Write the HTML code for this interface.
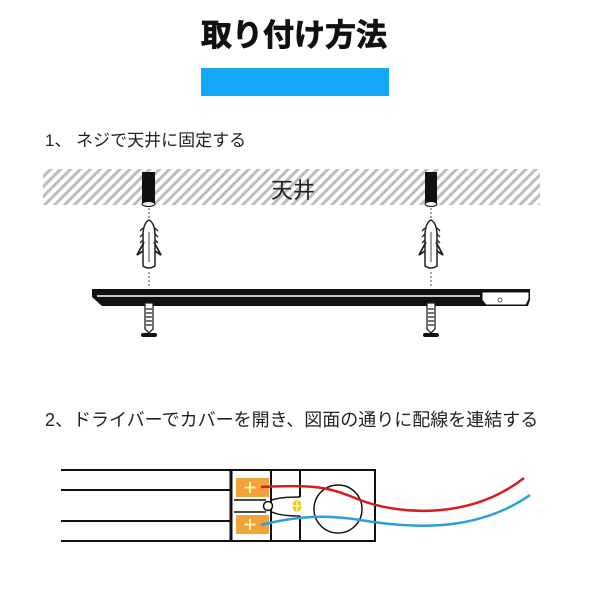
<!DOCTYPE html>
<html><head><meta charset="utf-8"><style>
html,body{margin:0;padding:0;background:#fff;width:600px;height:600px;overflow:hidden}
svg text{font-family:"Liberation Sans","Noto Sans CJK JP",sans-serif}
</style></head><body>
<svg width="600" height="600" viewBox="0 0 600 600" xmlns="http://www.w3.org/2000/svg">
<defs>
<pattern id="h" width="7" height="7" patternUnits="userSpaceOnUse" patternTransform="rotate(45)">
<rect width="7" height="7" fill="#fff"/><rect width="3" height="7" fill="#bdbdbd"/>
</pattern>
<g id="plug">
<path d="M0,-26 C-4,-24 -6,-18 -6,-10 L-6,20 Q0,24 6,20 L6,-10 C6,-18 4,-24 0,-26Z" fill="#fff" stroke="#222" stroke-width="1.5"/>
<path d="M-6,-18 l-3,3 M-6,-12 l-3,3 M-6,-6 l-3,3 M6,-18 l3,3 M6,-12 l3,3 M6,-6 l3,3" stroke="#222" stroke-width="1.3"/>
<path d="M-5,-4 L-12,9 L-6,5 M5,-4 L12,9 L6,5" stroke="#222" stroke-width="1.8" fill="none"/>
<line x1="0" y1="-14" x2="0" y2="16" stroke="#444" stroke-width="1"/>
</g>
<g id="screw">
<path d="M-4,0 L4,0 L4,26 L0,30 L-4,26Z" fill="#fff" stroke="#222" stroke-width="1.3"/>
<path d="M-3,6 h6 M-3,10 h6 M-3,14 h6 M-3,18 h6 M-3,22 h6" stroke="#222" stroke-width="1.2"/>
<rect x="-8" y="30" width="16" height="4" rx="2" fill="#111"/>
</g>
</defs>
<text x="294" y="46" text-anchor="middle" font-size="31" font-weight="bold" fill="#111" stroke="#111" stroke-width="0.8">取り付け方法</text>
<rect x="201" y="68" width="188" height="28" fill="#12a8f5"/>
<text x="45" y="146" font-size="17" fill="#222">1、 ネジで天井に固定する</text>
<rect x="43" y="169" width="497" height="36" fill="url(#h)"/>
<text x="293" y="198" text-anchor="middle" font-size="22" fill="#222">天井</text>
<rect x="142" y="172" width="13" height="33" fill="#111"/>
<ellipse cx="148.5" cy="204" rx="6.5" ry="2.5" fill="#eee" stroke="#111"/>
<rect x="425" y="172" width="12" height="33" fill="#111"/>
<ellipse cx="431" cy="204" rx="6" ry="2.5" fill="#eee" stroke="#111"/>
<path d="M149,208 V218 M149,272 V288 M431,208 V218 M431,272 V288" stroke="#444" stroke-dasharray="2 2"/>
<use href="#plug" x="149" y="246"/>
<use href="#plug" x="431" y="246"/>
<path d="M92,289 H530 L530,300 L528,306 H102 L92,297Z" fill="#111"/>
<path d="M97,296 H480" stroke="#fff" stroke-width="1.6"/>
<path d="M482,292 H529 V299 L526,305 H486 L482,300Z" fill="#fff" stroke="#111"/>
<circle cx="500" cy="300" r="2" fill="none" stroke="#555"/>
<use href="#screw" x="149" y="303"/>
<use href="#screw" x="431" y="303"/>
<text x="45" y="426" font-size="18" fill="#222">2、ドライバーでカバーを開き、図面の通りに配線を連結する</text>
<g stroke="#111" stroke-width="2" fill="none">
<path d="M61,470 H375 V541 H61"/>
<path d="M61,490 H230 M61,521 H230"/>
<path d="M231,470 V541" stroke-width="3"/>
<path d="M271,470 V541 M300,470 V497 M300,516 V541"/>
</g>
<g stroke="#111" stroke-width="1.5" fill="none">
<path d="M234,500 H266 M234,512 H266"/>
<path d="M272,500 Q280,497 300,497 M272,512 Q280,516 300,516"/>
<circle cx="268" cy="506" r="4.5" fill="#fff"/>
<circle cx="338" cy="509" r="24"/>
</g>
<rect x="236" y="478" width="33" height="19" fill="#f2a33a"/>
<rect x="236" y="515" width="33" height="19" fill="#f2a33a"/>
<path d="M250,482 v11 M244.5,487.5 h11 M250,519 v11 M244.5,524.5 h11" stroke="#fff7b0" stroke-width="1.8"/>
<ellipse cx="297" cy="506" rx="4.5" ry="6" fill="#f0cc10"/>
<path d="M297,500 v12 M292.5,506 h9" stroke="#fff" stroke-width="1"/>
<path d="M261,487 C320,484 330,488 360,500 C400,515 470,520 524,478" stroke="#d81c1c" stroke-width="2.5" fill="none"/>
<path d="M261,525 C300,515 330,515 360,520 C420,530 480,530 530,495" stroke="#2b9de0" stroke-width="2.5" fill="none"/>
</svg>
</body></html>
